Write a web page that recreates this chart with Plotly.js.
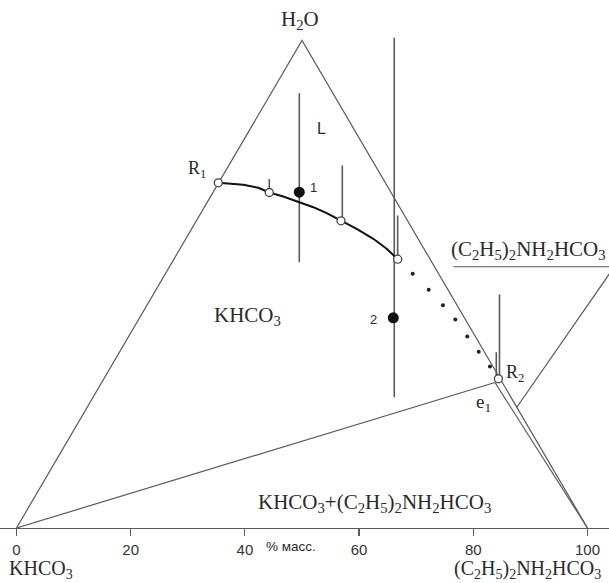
<!DOCTYPE html>
<html>
<head>
<meta charset="utf-8">
<script src="https://cdn.plot.ly/plotly-3.0.1.min.js"></script>
<style>html,body{margin:0;padding:0;background:#fff;}#chart{width:609px;height:583px;}</style>
</head>
<body>
<div id="chart"></div>
<script>
// Cartesian projection of the ternary diagram: x = position along the KHCO3–amine base (% масс.), y = height
const triangleX = [0, 50, 100];
const triangleY = [0, 86.6, 0];

// solubility curve R1 ... point 4 (solid)
const curveX = [35.34, 39.72, 42.35, 44.27, 46.72, 49.53, 51.98, 54.33, 56.83, 59.58, 62.49, 64.83, 66.76];
const curveY = [61.31, 60.96, 60.43, 59.59, 58.88, 57.87, 56.98, 55.92, 54.56, 53.14, 51.37, 49.59, 47.74];

// dotted continuation towards R2
const dotX = [69.39, 72.19, 74.69, 76.85, 78.95, 80.95, 82.92];
const dotY = [45.15, 42.31, 39.57, 37.03, 34.01, 31.30, 28.69];

// open experimental points (R1, ..., R2)
const openX = [35.34, 44.27, 56.83, 66.76, 84.40];
const openY = [61.31, 59.59, 54.56, 47.74, 26.50];

// filled points 1 and 2
const filledX = [49.53, 65.99];
const filledY = [59.65, 37.34];
const filledLabels = ['1', '2'];

// vertical stems
const stemX = [44.27, 49.53, 57.06, 66.16, 66.76, 84.59, 84.03];
const stemTop = [61.97, 77.23, 64.39, 87.07, 55.51, 41.47, 31.23];
const stemBottom = [59.59, 47.21, 54.56, 23.23, 47.74, 26.6, 26.6];

// tie line KHCO3 – e1 and inner line e1 – amine
const e1X = 83.8, e1Y = 25.84;
const tieX = [0, e1X];
const tieY = [0, e1Y];
const innerX = [e1X, 100];
const innerY = [e1Y, 0];

// leader for the (C2H5)2NH2HCO3 field label
const leaderX = [76.5, 104.7, 87.6];
const leaderY = [46.4, 46.4, 21.4];

const tickVals = [0, 20, 40, 60, 80, 100];
const tickText = ['0', '20', '40', '60', '80', '100'];

// build stems with gaps
const sx = [], sy = [];
for (let i = 0; i < stemX.length; i++) {
  sx.push(stemX[i], stemX[i], null);
  sy.push(stemTop[i], stemBottom[i], null);
}

const grey = '#5a5a5a';
const traces = [
  {x: triangleX, y: triangleY, mode: 'lines', line: {color: grey, width: 1.2}, hoverinfo: 'skip'},
  {x: tieX, y: tieY, mode: 'lines', line: {color: grey, width: 1.2}, hoverinfo: 'skip'},
  {x: innerX, y: innerY, mode: 'lines', line: {color: grey, width: 1.2}, hoverinfo: 'skip'},
  {x: leaderX, y: leaderY, mode: 'lines', line: {color: grey, width: 1.2}, hoverinfo: 'skip'},
  {x: sx, y: sy, mode: 'lines', line: {color: grey, width: 1.6}, connectgaps: false, hoverinfo: 'skip'},
  {x: curveX, y: curveY, mode: 'lines', line: {color: '#111', width: 2}, hoverinfo: 'skip'},
  {x: dotX, y: dotY, mode: 'markers', marker: {color: '#222', size: 4}, hoverinfo: 'skip'},
  {x: openX, y: openY, mode: 'markers', marker: {color: '#fff', size: 8, line: {color: '#444', width: 1.3}}, hoverinfo: 'skip', cliponaxis: false},
  {x: filledX, y: filledY, mode: 'markers', marker: {color: '#111', size: 11}, hoverinfo: 'skip'}
];

const serif = 'Liberation Serif, Times New Roman, serif';
const sans = 'Liberation Sans, Arial, sans-serif';
const txt = '#2a2a2a';
function ann(x, y, text, family, size, extra) {
  return Object.assign({x: x, y: y, xref: 'x', yref: 'y', text: text, showarrow: false,
    font: {family: family, size: size, color: txt}, xanchor: 'center', yanchor: 'middle'}, extra || {});
}

const annotations = [
  ann(49.65, 90.25, 'H<sub>2</sub>O', serif, 21),
  ann(31.6, 63.6, 'R<sub>1</sub>', serif, 18),
  ann(53.45, 70.87, 'L', sans, 16),
  ann(51.98, 60.52, filledLabels[0], sans, 13),
  ann(62.49, 37.07, filledLabels[1], sans, 13),
  ann(40.54, 37.6, 'KHCO<sub>3</sub>', serif, 21),
  ann(89.63, 49.4, '(C<sub>2</sub>H<sub>5</sub>)<sub>2</sub>NH<sub>2</sub>HCO<sub>3</sub>', serif, 21),
  ann(87.3, 27.5, 'R<sub>2</sub>', serif, 18),
  ann(81.87, 22.2, 'e<sub>1</sub>', serif, 19),
  ann(62.64, 4.5, 'KHCO<sub>3</sub>+(C<sub>2</sub>H<sub>5</sub>)<sub>2</sub>NH<sub>2</sub>HCO<sub>3</sub>', serif, 21),
  // labels below the axis, positioned in paper units
  ann(291 / 609, -0.0341, '% масс.', sans, 13.5, {xref: 'paper', yref: 'paper'}),
  ann(8 / 609, -0.1042, 'KHCO<sub>3</sub>', serif, 20, {xref: 'paper', yref: 'paper', xanchor: 'left', yanchor: 'bottom', borderpad: 0}),
  ann(602 / 609, -0.1042, '(C<sub>2</sub>H<sub>5</sub>)<sub>2</sub>NH<sub>2</sub>HCO<sub>3</sub>', serif, 20, {xref: 'paper', yref: 'paper', xanchor: 'right', yanchor: 'bottom', borderpad: 0})
];

const layout = {
  width: 609, height: 583,
  margin: {l: 0, r: 0, t: 0, b: 55, pad: 0},
  paper_bgcolor: '#fff', plot_bgcolor: '#fff',
  showlegend: false,
  xaxis: {range: [-2.89, 103.77], tickvals: tickVals, ticktext: tickText, ticks: 'outside', ticklen: 7,
          tickcolor: grey, tickwidth: 1.2, showline: true, linecolor: grey, linewidth: 1.2,
          showgrid: false, zeroline: false, fixedrange: true, ticklabelstandoff: 1,
          tickfont: {family: sans, size: 15, color: '#333'}},
  yaxis: {range: [0, 93.78], visible: false, showgrid: false, zeroline: false, fixedrange: true},
  annotations: annotations
};

Plotly.newPlot('chart', traces, layout, {staticPlot: true, displayModeBar: false});
</script>
</body>
</html>
